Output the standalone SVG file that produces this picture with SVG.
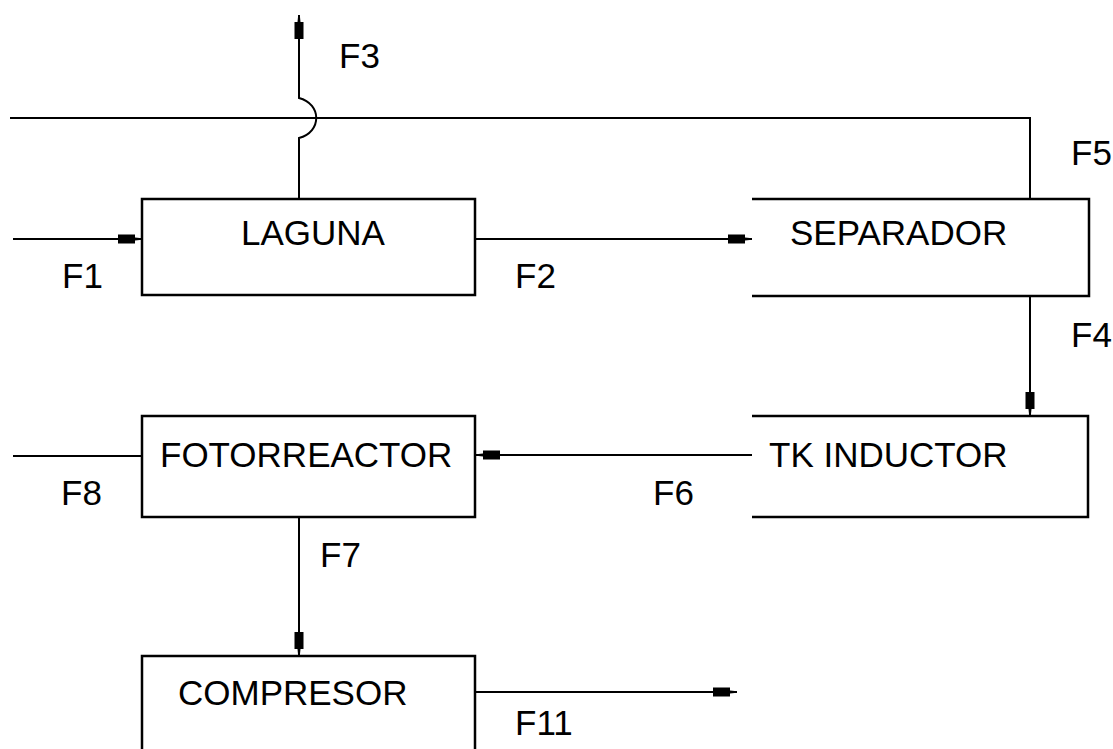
<svg xmlns="http://www.w3.org/2000/svg" width="1113" height="749" viewBox="0 0 1113 749">
<style>
.box{fill:none;stroke:#000;stroke-width:2.5}
.ln{fill:none;stroke:#000;stroke-width:2}
.t{font-family:"Liberation Sans",Arial,sans-serif;font-size:35px;fill:#000}
</style>
<defs>
<marker id="arr" viewBox="0 0 24 10" refX="24" refY="5" markerWidth="24" markerHeight="10" markerUnits="userSpaceOnUse" orient="auto">
<path d="M0,0.5 L17,0.5 L17,3.5 L24,4.2 L24,5.8 L17,6.5 L17,9.5 L0,9.5 Z" fill="#000"/>
</marker>
</defs>
<rect width="1113" height="749" fill="#fff"/>
<g id="connectors">
<path class="ln" d="M10,118 H1030 V199"/>
<path class="ln" d="M299,199 V138 C322,132 322,104 299,98 V15" marker-end="url(#arr)"/>
<path class="ln" d="M13,239 H142" marker-end="url(#arr)"/>
<path class="ln" d="M475,239 H752" marker-end="url(#arr)"/>
<path class="ln" d="M1030,296 V416" marker-end="url(#arr)"/>
<path class="ln" d="M752,455 H476" marker-end="url(#arr)"/>
<path class="ln" d="M13,456 H142"/>
<path class="ln" d="M299,517 V656" marker-end="url(#arr)"/>
<path class="ln" d="M475,692 H737" marker-end="url(#arr)"/>
<text class="t" x="339" y="68">F3</text>
<text class="t" x="1071" y="165">F5</text>
<text class="t" x="62" y="288">F1</text>
<text class="t" x="515" y="288">F2</text>
<text class="t" x="1071" y="347">F4</text>
<text class="t" x="61" y="505">F8</text>
<text class="t" x="653" y="505">F6</text>
<text class="t" x="320" y="567">F7</text>
<text class="t" x="515" y="735">F11</text>
</g>
<g id="laguna">
<rect class="box" x="142" y="199" width="333" height="96"/>
<text class="t" x="241" y="245">LAGUNA</text>
</g>
<g id="separador">
<path class="box" d="M752,199 H1089 V296 H752"/>
<text class="t" x="790" y="245">SEPARADOR</text>
</g>
<g id="tk-inductor">
<path class="box" d="M752,416 H1088 V517 H752"/>
<text class="t" x="769" y="467">TK INDUCTOR</text>
</g>
<g id="fotorreactor">
<rect class="box" x="142" y="416" width="333" height="101"/>
<text class="t" x="160" y="467">FOTORREACTOR</text>
</g>
<g id="compresor">
<path class="box" d="M142,752 V656 H475 V752"/>
<text class="t" x="178" y="705">COMPRESOR</text>
</g>
</svg>
